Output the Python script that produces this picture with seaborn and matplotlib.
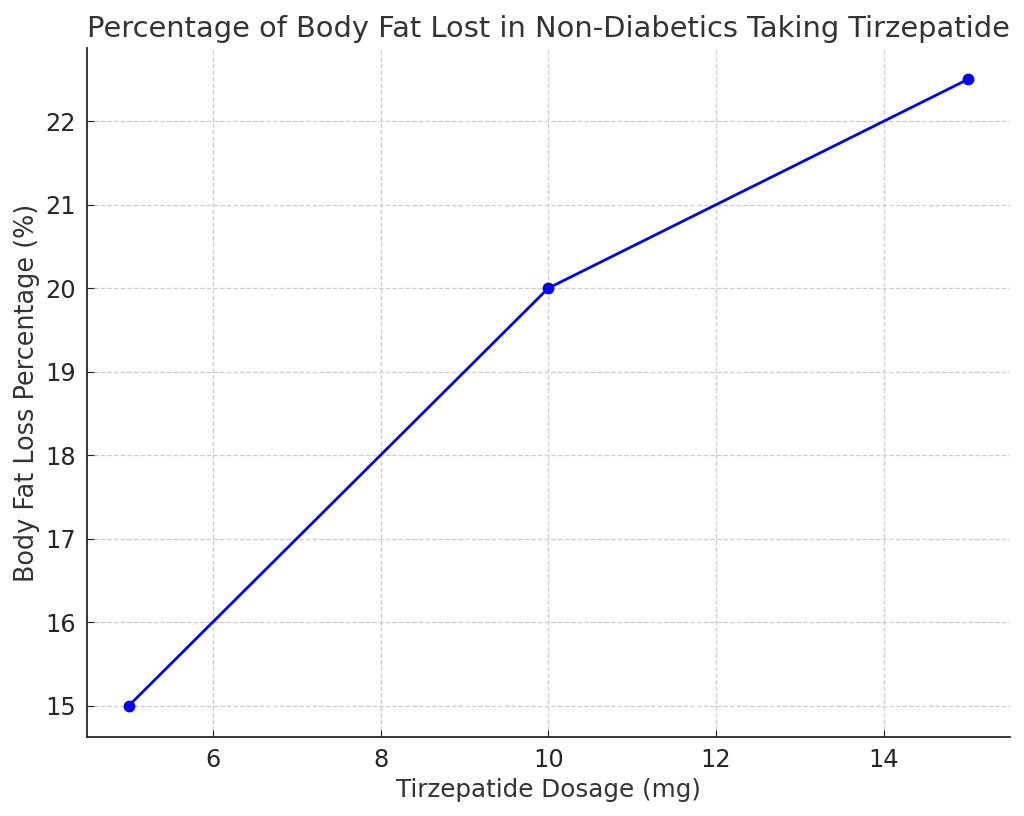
import numpy as np
import pandas as pd
import matplotlib
matplotlib.use("Agg")
import matplotlib.pyplot as plt
import seaborn as sns

dosage_mg = [5, 10, 15]
fat_loss_pct = [15, 20, 22.5]

df = pd.DataFrame({"Dosage": dosage_mg, "FatLoss": fat_loss_pct})

sns.set_style("ticks")
plt.rcParams["font.family"] = ["DejaVu Sans"]
text_col = "#333333"

fig = plt.figure(figsize=(10.24, 8.16), dpi=100)
ax = fig.add_axes([0.085, 0.097, 0.901, 0.844])

sns.lineplot(data=df, x="Dosage", y="FatLoss", ax=ax, color="blue",
             marker="o", markersize=8.5, markeredgewidth=0, linewidth=2)

ax.set_title("Percentage of Body Fat Lost in Non-Diabetics Taking Tirzepatide",
             fontsize=20.8, color=text_col, pad=8)
ax.set_xlabel("Tirzepatide Dosage (mg)", fontsize=17.7, color=text_col, labelpad=4)
ax.set_ylabel("Body Fat Loss Percentage (%)", fontsize=18.4, color=text_col, labelpad=4)
ax.tick_params(direction="in", labelsize=17.3, colors="#262626", length=5, pad=8)
ax.grid(True, linestyle="--", color="#cccccc", linewidth=0.9)
sns.despine(ax=ax)
for s in ["left", "bottom"]:
    ax.spines[s].set_color("#262626")
    ax.spines[s].set_linewidth(1.3)

fig.savefig("out.png", dpi=100)
